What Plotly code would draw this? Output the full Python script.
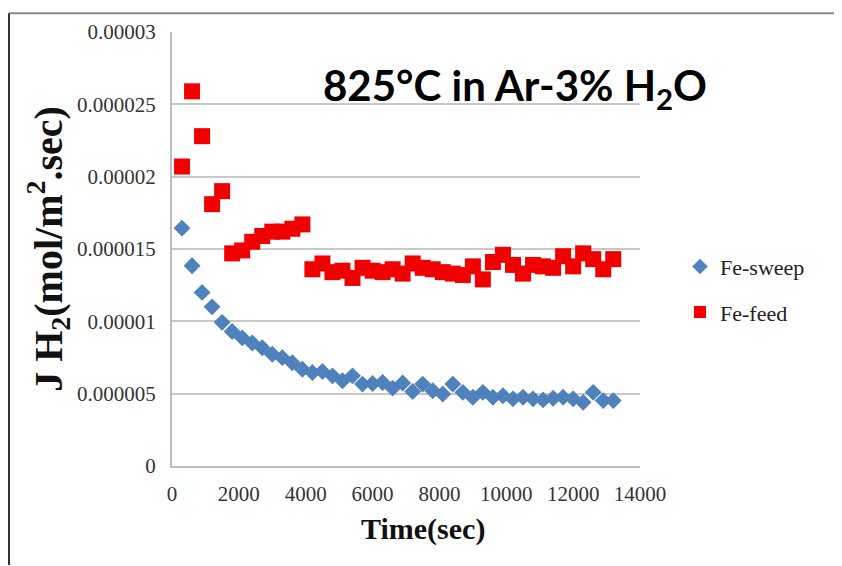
import plotly.graph_objects as go

time_sec = [300, 600, 900, 1200, 1500, 1800, 2100, 2400, 2700, 3000, 3300, 3600, 3900,
            4200, 4500, 4800, 5100, 5400, 5700, 6000, 6300, 6600, 6900, 7200, 7500, 7800,
            8100, 8400, 8700, 9000, 9300, 9600, 9900, 10200, 10500, 10800, 11100, 11400,
            11700, 12000, 12300, 12600, 12900, 13200]

fe_sweep = [1.644e-5, 1.384e-5, 1.20e-5, 1.10e-5, 9.93e-6, 9.3e-6, 8.86e-6, 8.5e-6, 8.17e-6,
            7.72e-6, 7.49e-6, 7.14e-6, 6.69e-6, 6.46e-6, 6.53e-6, 6.23e-6, 5.89e-6, 6.23e-6,
            5.66e-6, 5.70e-6, 5.77e-6, 5.38e-6, 5.74e-6, 5.15e-6, 5.66e-6, 5.20e-6, 4.98e-6,
            5.66e-6, 5.09e-6, 4.75e-6, 5.09e-6, 4.75e-6, 4.86e-6, 4.64e-6, 4.75e-6, 4.64e-6,
            4.57e-6, 4.68e-6, 4.75e-6, 4.64e-6, 4.40e-6, 5.09e-6, 4.52e-6, 4.52e-6]

fe_feed = [2.07e-5, 2.59e-5, 2.28e-5, 1.81e-5, 1.90e-5, 1.47e-5, 1.49e-5, 1.55e-5, 1.59e-5,
           1.62e-5, 1.62e-5, 1.64e-5, 1.67e-5, 1.36e-5, 1.40e-5, 1.34e-5, 1.35e-5, 1.30e-5,
           1.37e-5, 1.35e-5, 1.34e-5, 1.36e-5, 1.33e-5, 1.40e-5, 1.37e-5, 1.36e-5, 1.34e-5,
           1.33e-5, 1.32e-5, 1.38e-5, 1.29e-5, 1.41e-5, 1.46e-5, 1.39e-5, 1.33e-5, 1.39e-5,
           1.38e-5, 1.37e-5, 1.45e-5, 1.38e-5, 1.47e-5, 1.43e-5, 1.36e-5, 1.43e-5]

y_ticks = [0, 0.000005, 0.00001, 0.000015, 0.00002, 0.000025, 0.00003]
y_tick_text = ["0", "0.000005", "0.00001", "0.000015", "0.00002", "0.000025", "0.00003"]
x_ticks = [0, 2000, 4000, 6000, 8000, 10000, 12000, 14000]
x_tick_text = ["0", "2000", "4000", "6000", "8000", "10000", "12000", "14000"]

serif = "Liberation Serif, Times New Roman, serif"

# page is drawn with an 8px body offset; plot area in page coords: x 172-640, y 28-466
L, T, PW, PH = 164, 20, 468, 438

fig = go.Figure()
fig.add_trace(go.Scatter(
    x=time_sec, y=fe_sweep, mode="markers", name="Fe-sweep", legendgroup="a",
    marker=dict(symbol="diamond", size=13, color="#4f81bd"),
))
fig.add_trace(go.Scatter(
    x=time_sec, y=fe_feed, mode="markers", name="Fe-feed", legendgroup="b",
    marker=dict(symbol="square", size=16, color="#f20000"),
))

def px(xp):
    return (xp - 8 - L) / PW

def py(yp):
    return 1 - (yp - 8 - T) / PH

fig.update_layout(
    width=842, height=566,
    paper_bgcolor="white", plot_bgcolor="white",
    margin=dict(l=L, r=842 - L - PW, t=T, b=566 - T - PH),
    showlegend=True,
    legend=dict(x=px(680), y=py(288), xanchor="left", yanchor="middle",
                font=dict(family=serif, size=22, color="#222"),
                bgcolor="rgba(0,0,0,0)", itemsizing="constant", tracegroupgap=14),
    xaxis=dict(range=[0, 14000], tickvals=x_ticks, ticktext=x_tick_text, showgrid=False,
               showline=True, linecolor="#bdbdbd", linewidth=2, ticks="",
               ticklabelstandoff=8,
               tickfont=dict(family=serif, size=21, color="#333"),
               zeroline=False),
    yaxis=dict(range=[0, 0.00003], tickvals=y_ticks, ticktext=y_tick_text,
               showgrid=True, gridcolor="#c8c8c8", gridwidth=2,
               showline=True, linecolor="#bdbdbd", linewidth=2, ticks="",
               ticklabelstandoff=10,
               tickfont=dict(family=serif, size=21, color="#333"),
               zeroline=False,
               title=dict(text="<b>J H<sub>2</sub>(mol/m<sup>2</sup>.sec)</b>",
                          font=dict(family=serif, size=40, color="#111"), standoff=2)),
    annotations=[
        dict(text="<b>825°C in Ar-3% H<sub>2</sub>O</b>", xref="paper", yref="paper",
             x=px(515), y=py(85), xanchor="center", yanchor="middle",
             showarrow=False, font=dict(family="Lato", size=42, color="black")),
        dict(text="<b>Time(sec)</b>", xref="paper", yref="paper",
             x=px(423), y=py(530), xanchor="center", yanchor="middle",
             showarrow=False, font=dict(family=serif, size=30, color="#111")),
    ],
    shapes=[
        dict(type="line", xref="paper", yref="paper", x0=px(9), x1=px(842),
             y0=py(9), y1=py(9), line=dict(color="#888", width=2)),
        dict(type="line", xref="paper", yref="paper", x0=px(9), x1=px(9),
             y0=py(9), y1=py(566), line=dict(color="#333", width=2)),
    ],
)

fig.write_html("out.html")
